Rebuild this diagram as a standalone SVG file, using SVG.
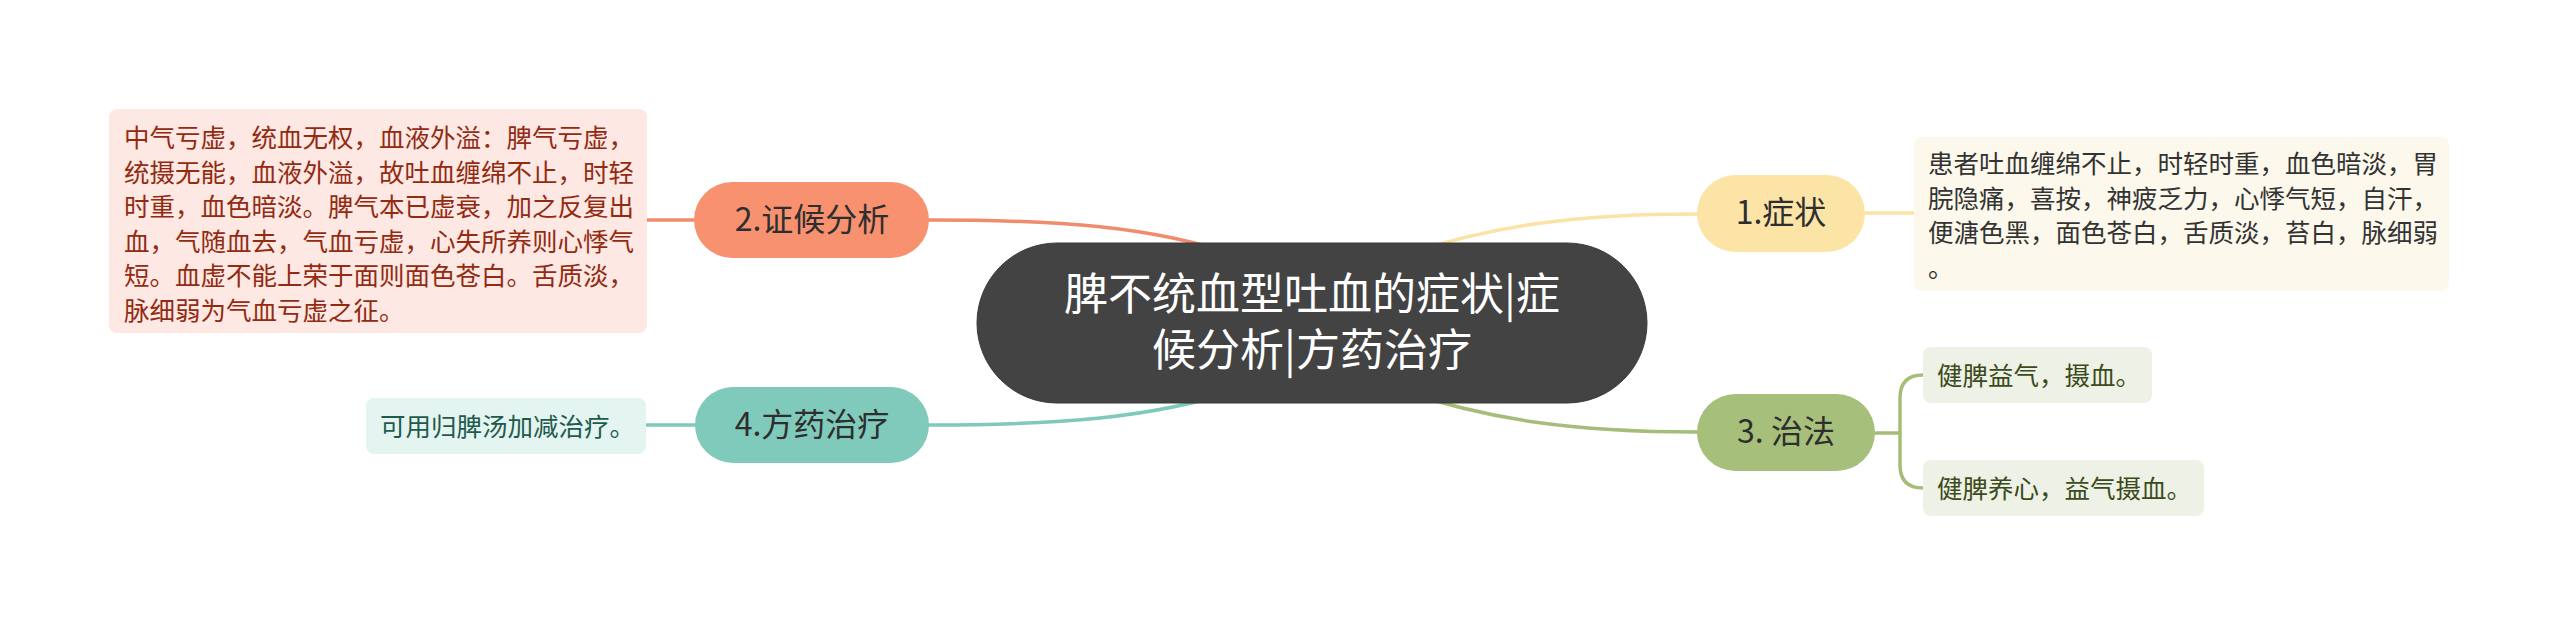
<svg xmlns="http://www.w3.org/2000/svg" width="2560" height="628" viewBox="0 0 2560 628">
<style>
text { font-family: "Noto Sans CJK SC", "Noto Sans", sans-serif; }
.main { font-size: 44px; fill: #ffffff; text-anchor: middle; }
.topic { font-size: 32px; fill: #2e2e2e; text-anchor: middle; }
.note { font-size: 25.5px; }
.conn { fill: none; stroke-width: 3.5; stroke-linecap: round; }
</style>
<rect width="2560" height="628" fill="#ffffff"/>
<g id="connectors">
  <path class="conn" stroke="#f08c6c" d="M 929 220 C 1060 220 1150 226 1240 256"/>
  <path class="conn" stroke="#fbe3a4" d="M 1697 214 C 1574 214 1490 226 1400 256"/>
  <path class="conn" stroke="#7ec9b9" d="M 929 425 C 1060 425 1150 418 1240 390"/>
  <path class="conn" stroke="#a5bd78" d="M 1697 432 C 1574 432 1490 420 1400 390"/>
  <path class="conn" stroke="#f08c6c" d="M 647 220 L 694 220"/>
  <path class="conn" stroke="#fbe3a4" d="M 1865 213 L 1914 213"/>
  <path class="conn" stroke="#7ec9b9" d="M 646 425 L 695 425"/>
  <path class="conn" stroke="#a5bd78" d="M 1875 433 L 1900 433 M 1923 375 Q 1900 375 1900 398 L 1900 465 Q 1900 488 1923 488"/>
</g>
<g id="central">
  <rect x="977" y="243" width="670" height="160" rx="80" fill="#434343" stroke="#3a3a3a" stroke-width="1"/>
  <text class="main"><tspan x="1312" y="310">脾不统血型吐血的症状|症</tspan><tspan x="1312" y="366">候分析|方药治疗</tspan></text>
</g>
<g id="topic2">
  <rect x="694" y="182" width="235" height="76" rx="38" fill="#f7916f"/>
  <text class="topic" x="812" y="231">2.证候分析</text>
</g>
<g id="note2">
  <rect x="109" y="109" width="538" height="224" rx="8" fill="#fde8e3"/>
  <g class="note" fill="#922b12">
    <text x="124" y="147">中气亏虚，统血无权，血液外溢：脾气亏虚，</text>
    <text x="124" y="181.5">统摄无能，血液外溢，故吐血缠绵不止，时轻</text>
    <text x="124" y="216">时重，血色暗淡。脾气本已虚衰，加之反复出</text>
    <text x="124" y="250.5">血，气随血去，气血亏虚，心失所养则心悸气</text>
    <text x="124" y="285">短。血虚不能上荣于面则面色苍白。舌质淡，</text>
    <text x="124" y="319.5">脉细弱为气血亏虚之征。</text>
  </g>
</g>
<g id="topic1">
  <rect x="1697" y="175" width="168" height="77" rx="38.5" fill="#fce4a7"/>
  <text class="topic" x="1781" y="224">1.症状</text>
</g>
<g id="note1">
  <rect x="1914" y="137" width="535" height="154" rx="8" fill="#fdf8ec"/>
  <g class="note" fill="#333333">
    <text x="1928" y="173">患者吐血缠绵不止，时轻时重，血色暗淡，胃</text>
    <text x="1928" y="207.5">脘隐痛，喜按，神疲乏力，心悸气短，自汗，</text>
    <text x="1928" y="242">便溏色黑，面色苍白，舌质淡，苔白，脉细弱</text>
    <text x="1928" y="276.5">。</text>
  </g>
</g>
<g id="topic3">
  <rect x="1697" y="394" width="178" height="77" rx="38.5" fill="#a6bf7a"/>
  <text class="topic" x="1786" y="443">3. 治法</text>
</g>
<g id="note3a">
  <rect x="1923" y="347" width="229" height="56" rx="8" fill="#eef1e5"/>
  <text class="note" x="1937" y="385" fill="#3b4b1b">健脾益气，摄血。</text>
</g>
<g id="note3b">
  <rect x="1923" y="460" width="281" height="56" rx="8" fill="#eef1e5"/>
  <text class="note" x="1937" y="498" fill="#3b4b1b">健脾养心，益气摄血。</text>
</g>
<g id="topic4">
  <rect x="695" y="387" width="234" height="76" rx="38" fill="#7fcaba"/>
  <text class="topic" x="812" y="436">4.方药治疗</text>
</g>
<g id="note4">
  <rect x="366" y="398" width="280" height="56" rx="8" fill="#e4f4f0"/>
  <text class="note" x="380" y="436" fill="#1f5b4d">可用归脾汤加减治疗。</text>
</g>
</svg>
